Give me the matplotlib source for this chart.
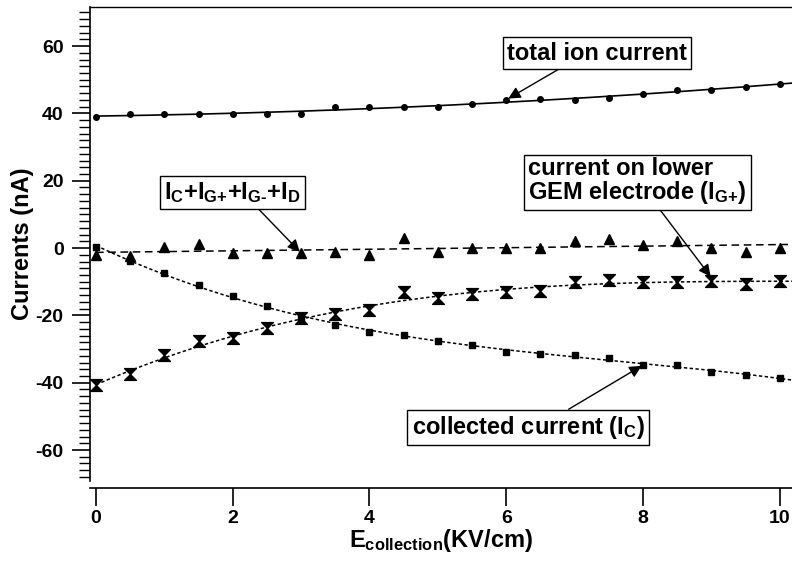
import numpy as np
import matplotlib.pyplot as plt
from matplotlib.path import Path
from matplotlib.ticker import MultipleLocator

plt.rcParams['font.family'] = ['Liberation Sans', 'DejaVu Sans']
plt.rcParams['font.weight'] = 'bold'
plt.rcParams['mathtext.fontset'] = 'custom'
plt.rcParams['mathtext.rm'] = 'Liberation Sans:bold'
plt.rcParams['mathtext.it'] = 'Liberation Sans:bold'
plt.rcParams['mathtext.bf'] = 'Liberation Sans:bold'
plt.rcParams['axes.unicode_minus'] = False

# campo de coleta (kV/cm)
e_col = np.arange(0, 10.5, 0.5)

# correntes medidas (nA)
i_total = [39.0, 39.8, 39.8, 39.8, 39.8, 39.8, 39.8, 41.8, 41.8, 41.8, 41.8,
           42.8, 44.0, 44.3, 44.0, 44.7, 45.7, 46.9, 46.9, 47.9, 48.7]
i_soma = [-2.1, -2.4, 0.4, 1.1, -1.6, -1.6, -1.4, -1.1, -2.1, 3.1, -1.2,
          -0.1, -0.1, -0.1, 2.1, 2.6, 0.9, 2.2, -0.1, -1.1, -0.1]
i_coletada = [0.2, -3.8, -7.5, -11.0, -14.3, -17.2, -20.9, -22.9, -24.8, -25.8, -27.6,
              -28.8, -30.8, -31.5, -31.8, -32.8, -34.7, -34.7, -36.7, -37.7, -38.7]
i_gem = [-40.7, -37.5, -31.8, -27.6, -26.8, -23.7, -20.9, -19.7, -18.4, -13.0, -14.8,
         -13.8, -13.0, -12.8, -10.0, -9.5, -10.2, -10.0, -9.7, -10.7, -9.7]

# marcador em forma de ampulheta
ampulheta = Path([(-1, 1), (1, 1), (0, 0), (1, -1), (-1, -1), (0, 0), (-1, 1)],
                 [Path.MOVETO, Path.LINETO, Path.LINETO, Path.LINETO,
                  Path.LINETO, Path.LINETO, Path.CLOSEPOLY])

fig = plt.figure(figsize=(7.92, 5.62), dpi=100)
ax = fig.add_axes([90 / 792, 1 - 481 / 562, 1 - 90 / 792, (481 - 7) / 562])

# curvas ajustadas
xf = np.linspace(0, 10.3, 200)
ax.plot(xf, np.polyval(np.polyfit(e_col, i_total, 2), xf), '-', color='black', lw=1.2)
ax.plot(xf, np.polyval(np.polyfit(e_col, i_soma, 1), xf), color='black', lw=1.1,
        dashes=(5, 3))
ax.plot(xf, np.polyval(np.polyfit(e_col, i_coletada, 3), xf), color='black', lw=1.1,
        dashes=(2.2, 1.6))
ax.plot(xf, np.polyval(np.polyfit(e_col, i_gem, 3), xf), color='black', lw=1.1,
        dashes=(2.2, 1.6))

# pontos
ax.plot(e_col, i_total, 'o', color='black', ms=4)
ax.plot(e_col, i_soma, '^', color='black', ms=6.5)
ax.plot(e_col, i_coletada, 's', color='black', ms=4)
ax.plot(e_col, i_gem, marker=ampulheta, ls='none', color='black', ms=8.5)

ax.set_xlim(-0.088, 10.18)
ax.set_ylim(-69.2, 71.6)

# eixos
ax.spines['right'].set_visible(False)
ax.spines['bottom'].set_position(('outward', 5))
for s in ax.spines.values():
    s.set_linewidth(1.2)
ax.spines['top'].set_linewidth(1.0)

ax.xaxis.set_major_locator(MultipleLocator(2))
ax.yaxis.set_major_locator(MultipleLocator(20))
ax.yaxis.set_minor_locator(MultipleLocator(2))
ax.tick_params(axis='both', which='major', direction='out', length=13, width=1.2,
               labelsize=14, pad=6)
ax.tick_params(axis='x', which='major', pad=3)
ax.tick_params(axis='y', which='minor', direction='out', length=8, width=1.0)
ax.tick_params(top=False, right=False)

ax.set_ylabel('Currents (nA)', fontsize=17, fontweight='bold', labelpad=1)
ax.set_xlabel(r'E$_{\mathrm{collection}}$(KV/cm)', fontsize=17, fontweight='bold',
              labelpad=0)

caixa = dict(boxstyle='square,pad=0.18', fc='white', ec='black', lw=1.0)


def seta(rx, ry):
    return dict(arrowstyle='-|>', color='black', lw=1.0, mutation_scale=18,
                shrinkA=0, shrinkB=0, relpos=(rx, ry))


ax.annotate('total ion current', xy=(6.03, 44.4), xytext=(7.33, 57.9),
            fontsize=17, fontweight='bold', ha='center', va='center',
            bbox=caixa, arrowprops=seta(0.33, 0))
ax.annotate(r'I$_{\mathrm{C}}$+I$_{\text{G+}}$+I$_{\text{G-}}$+I$_{\mathrm{D}}$',
            xy=(2.98, -1.1), xytext=(2.0, 16.5),
            fontsize=17, fontweight='bold', ha='center', va='center',
            bbox=caixa, arrowprops=seta(0.66, 0))
ax.annotate('current on lower\nGEM electrode (I$_{\\text{G+}}$)',
            xy=(8.99, -8.5), xytext=(7.92, 19.75),
            fontsize=17, fontweight='bold', ha='center', va='center', ma='left',
            linespacing=0.95, bbox=caixa, arrowprops=seta(0.59, 0))
ax.annotate('collected current (I$_{\\mathrm{C}}$)', xy=(7.98, -35.0),
            xytext=(6.32, -53.3),
            fontsize=17, fontweight='bold', ha='center', va='center',
            bbox=caixa, arrowprops=seta(0.64, 1))

fig.savefig('out.png', dpi=100)
